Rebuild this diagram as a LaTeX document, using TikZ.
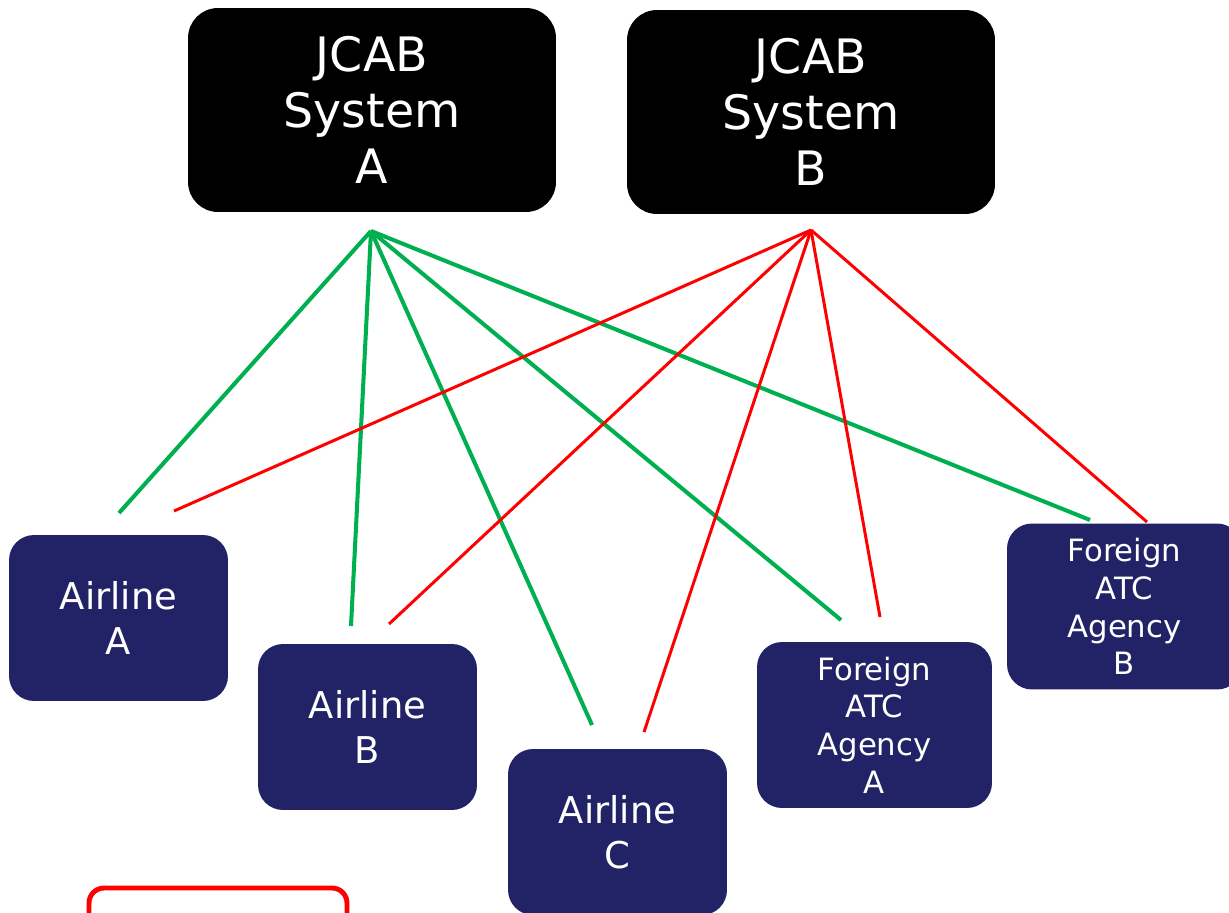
\documentclass[tikz,border=0pt]{standalone}
\usepackage{fontspec}
\setmainfont{DejaVu Sans}
\definecolor{navy}{RGB}{34,34,102}
\definecolor{linkgreen}{RGB}{0,176,80}
\tikzset{
  jcab/.style={fill=black,text=white,rounded corners=0.6cm,minimum width=7.36cm,minimum height=4.08cm,align=center,font=\fontsize{27}{32}\selectfont},
  airline/.style={fill=navy,text=white,rounded corners=0.5cm,minimum width=4.38cm,minimum height=3.32cm,align=center,font=\fontsize{21}{25.5}\selectfont},
  agency/.style={airline,minimum width=4.7cm,font=\fontsize{17.5}{21.5}\selectfont},
  greenlink/.style={draw=linkgreen,line width=2.3pt},
  redlink/.style={draw=red,line width=1.7pt}
}
\begin{document}
\begin{tikzpicture}[x=0.02cm,y=-0.02cm]
\useasboundingbox (0,0) rectangle (1229,912);
\clip (0,0) rectangle (1229,912);
\node[jcab] (sysA) at (372,110) {JCAB\\System\\A};
\node[jcab] (sysB) at (811,112) {JCAB\\System\\B};
\node[airline] (airA) at (118.5,618) {Airline\\A};
\node[airline] (airB) at (367.5,727) {Airline\\B};
\node[airline] (airC) at (617.5,832) {Airline\\C};
\node[agency] (agA) at (874.5,725) {Foreign\\ATC\\Agency\\A};
\node[agency] (agB) at (1124.5,606.5) {Foreign\\ATC\\Agency\\B};
\draw[red,line width=2.8pt,rounded corners=0.3cm] (89,930) |- (347,888) -- (347,930);
% link ends
\coordinate (hubA) at (371,231);
\coordinate (hubB) at (811,230);
\coordinate (gAirA) at (119,513);
\coordinate (gAirB) at (351,626);
\coordinate (gAirC) at (592,725);
\coordinate (gAgA) at (841,620);
\coordinate (gAgB) at (1090,520);
\coordinate (rAirA) at (174,511);
\coordinate (rAirB) at (389,624);
\coordinate (rAirC) at (644,732);
\coordinate (rAgA) at (880,617);
\coordinate (rAgB) at (1147,522);
\foreach \e in {gAirA,gAirB,gAirC,gAgA,gAgB}
  \draw[greenlink] (hubA) -- (\e);
\foreach \e in {rAirA,rAirB,rAirC,rAgA,rAgB}
  \draw[redlink] (hubB) -- (\e);
\end{tikzpicture}
\end{document}
